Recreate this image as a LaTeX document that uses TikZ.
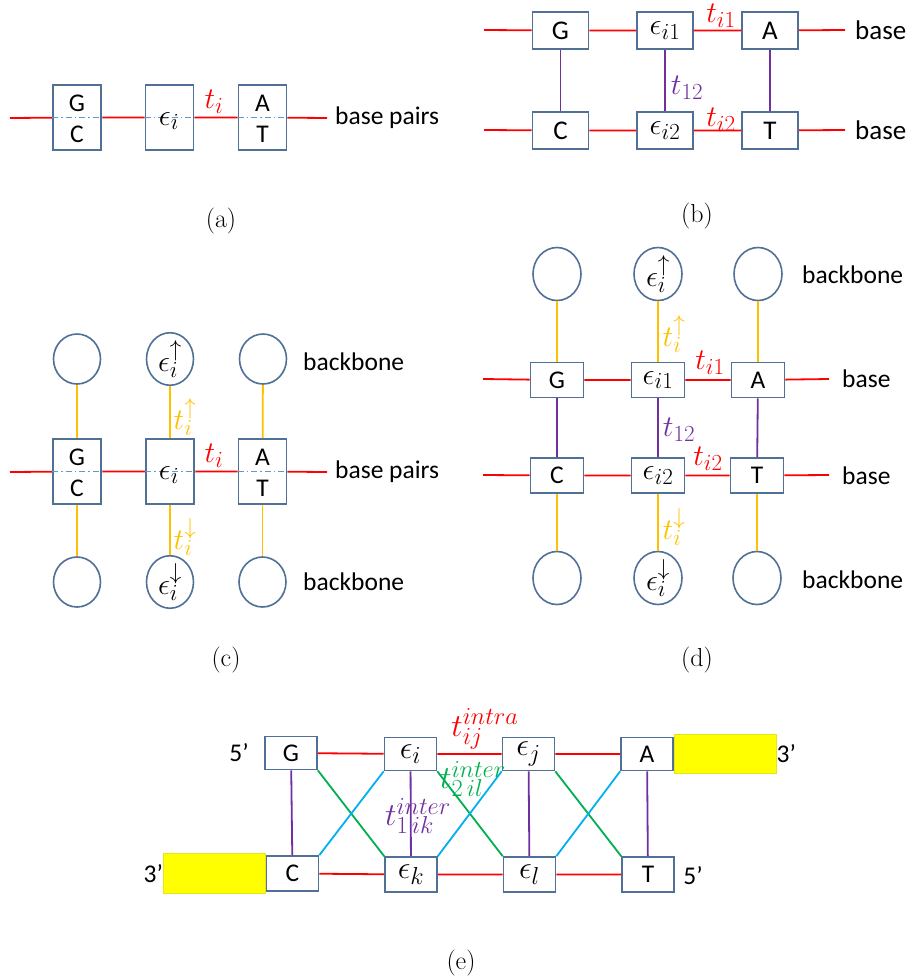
\RequirePackage{fix-cm}
\documentclass[tikz,border=0pt]{standalone}
\usepackage{fontspec}
\setsansfont{Carlito}
\usetikzlibrary{shapes.geometric}
\DeclareMathSizes{30}{30}{23}{18}
\DeclareMathSizes{32}{32}{24.5}{19}
\definecolor{boxc}{RGB}{80,112,150}
\definecolor{redc}{RGB}{255,0,0}
\definecolor{orc}{RGB}{255,192,0}
\definecolor{purc}{RGB}{112,48,160}
\definecolor{grc}{RGB}{0,176,80}
\definecolor{cyc}{RGB}{0,176,240}
\definecolor{ddc}{RGB}{91,155,213}
\definecolor{yelc}{RGB}{255,255,0}
\tikzset{
  lbl/.style={font=\sffamily\fontsize{25.5}{30}\selectfont, inner sep=0pt},
  lblb/.style={font=\sffamily\fontsize{27}{30}\selectfont, inner sep=0pt},
  mth/.style={font=\fontsize{30}{34}\selectfont, inner sep=0pt},
  mthe/.style={font=\fontsize{32}{36}\selectfont, inner sep=0pt},
  captxt/.style={font=\rmfamily\fontsize{26}{30}\selectfont, inner sep=0pt},
  bx/.style={draw=boxc, line width=1.6pt, fill=white, inner sep=0pt, lbl},
  bxa/.style={bx, minimum width=48pt, minimum height=65pt},
  bxb/.style={bx, lblb, minimum width=56pt, minimum height=37pt},
  bxd/.style={bx, minimum width=53pt, minimum height=35pt},
  bxe/.style={bx, minimum width=52pt, minimum height=33pt},
  circc/.style={ellipse, draw=boxc, line width=1.6pt, fill=white, inner sep=0pt, minimum width=47pt, minimum height=50pt, font=\fontsize{30}{34}\selectfont},
  circd/.style={circc, minimum width=48pt, minimum height=53pt},
  rl/.style={draw=redc, line width=1.8pt},
  ol/.style={draw=orc, line width=1.8pt},
  pl/.style={draw=purc, line width=1.8pt},
  gl/.style={draw=grc, line width=1.8pt},
  cl/.style={draw=cyc, line width=1.8pt},
  dd/.style={draw=ddc, line width=1.8pt, dash pattern=on 6pt off 3pt on 1.5pt off 3pt},
  yel/.style={fill=yelc, draw=yelc!80!gray, line width=0.6pt, inner sep=0pt},
}
\begin{document}
\begin{tikzpicture}[x=1pt,y=-1pt]
\useasboundingbox (0,0) rectangle (912,980);
\fill[white] (0,0) rectangle (912,980);

% ================= (a) =================
\node[bxa] (aGC) at (77,117.5) {};
\node[bxa] (aE) at (169.5,117.5) {};
\node[bxa] (aAT) at (262.5,117.5) {};
\coordinate (aL) at (10,118);
\coordinate (aR) at (327,118);
\draw[rl] (aL) -- (aGC) -- (aE) -- (aAT) -- (aR);
\draw[dd] (aGC.west) -- (aGC.east);
\draw[dd] (aE.west) -- (aE.east);
\draw[dd] (aAT.west) -- (aAT.east);
\node[lbl] (aG) at (77,103) {G};
\node[lbl] (aC) at (77,134) {C};
\node[mth] (aEt) at (169,121) {$\epsilon_i$};
\node[lbl] (aA) at (262.5,103) {A};
\node[lbl] (aT) at (262.5,134) {T};
\node[mth, text=redc] (ati) at (214,102) {$t_i$};
\node[lbl, anchor=west] (abp) at (335,118) {base pairs};
\node[captxt] (capa) at (221,221) {(a)};

% ================= (b) =================
\node[bxb] (bG) at (560.5,30.5) {G};
\node[bxb, mth] (bE1) at (665,30.5) {$\epsilon_{i1}$};
\node[bxb] (bA) at (770,30.5) {A};
\node[bxb] (bC) at (560.5,130.5) {C};
\node[bxb, mth] (bE2) at (665,130.5) {$\epsilon_{i2}$};
\node[bxb] (bT) at (770,130.5) {T};
\coordinate (bL1) at (484,30);
\coordinate (bR1) at (845,30);
\coordinate (bL2) at (484,130);
\coordinate (bR2) at (845,130);
\draw[rl] (bL1) -- (bG) -- (bE1) -- (bA) -- (bR1);
\draw[rl] (bL2) -- (bC) -- (bE2) -- (bT) -- (bR2);
\draw[pl] (bG) -- (bC);
\draw[pl] (bE1) -- (bE2);
\draw[pl] (bA) -- (bT);
\node[mth, text=redc] (bti1) at (721,16) {$t_{i1}$};
\node[mth, text=purc] (bt12) at (687,88) {$t_{12}$};
\node[mth, text=redc] (bti2) at (721,120) {$t_{i2}$};
\node[lblb, anchor=west] (bb1) at (855,30) {base};
\node[lblb, anchor=west] (bb2) at (855,130) {base};
\node[captxt] (capb) at (697,216) {(b)};

% ================= (c) =================
\node[circc] (cU1) at (77,359) {};
\node[circc] (cU2) at (170,359) {$\epsilon_i^{\uparrow}$};
\node[circc] (cU3) at (263,359) {};
\node[bxa] (cGC) at (77,471.5) {};
\node[bxa] (cE) at (170,471.5) {};
\node[bxa] (cAT) at (262.5,471.5) {};
\node[circc] (cD1) at (77,582) {};
\node[circc] (cD2) at (170,582) {$\epsilon_i^{\downarrow}$};
\node[circc] (cD3) at (262.5,582) {};
\coordinate (cL) at (10,472);
\coordinate (cR) at (327,472);
\draw[rl] (cL) -- (cGC) -- (cE) -- (cAT) -- (cR);
\draw[dd] (cGC.west) -- (cGC.east);
\draw[dd] (cE.west) -- (cE.east);
\draw[dd] (cAT.west) -- (cAT.east);
\draw[ol] (cU1) -- (cGC);
\draw[ol] (cU2) -- (cE);
\draw[ol] (cU3) -- (cAT);
\draw[ol] (cGC) -- (cD1);
\draw[ol] (cE) -- (cD2);
\draw[ol] (cAT) -- (cD3);
\node[lbl] (cG) at (77,457) {G};
\node[lbl] (cC) at (77,488) {C};
\node[mth] (cEt) at (169,475) {$\epsilon_i$};
\node[lbl] (cA) at (262.5,457) {A};
\node[lbl] (cT) at (262.5,488) {T};
\node[mth, text=redc] (cti) at (214,456) {$t_i$};
\node[mth, text=orc] (ctu) at (185,417) {$t_i^{\uparrow}$};
\node[mth, text=orc] (ctd) at (185,537) {$t_i^{\downarrow}$};
\node[lbl, anchor=west] (cbp) at (335,472) {base pairs};
\node[lbl, anchor=west] (cbb1) at (303,362) {backbone};
\node[lbl, anchor=west] (cbb2) at (303,582) {backbone};
\node[captxt] (capc) at (226,660) {(c)};

% ================= (d) =================
\node[circd] (dU1) at (557,274) {};
\node[circd] (dU2) at (658,274) {$\epsilon_i^{\uparrow}$};
\node[circd] (dU3) at (758,274) {};
\node[bxd] (dG) at (557,380) {G};
\node[bxd, mth] (dE1) at (658,380) {$\epsilon_{i1}$};
\node[bxd] (dA) at (758,380) {A};
\node[bxd] (dC) at (557,475.5) {C};
\node[bxd, mth] (dE2) at (658,475.5) {$\epsilon_{i2}$};
\node[bxd] (dT) at (757,475.5) {T};
\node[circd] (dD1) at (557,578) {};
\node[circd] (dD2) at (658,578) {$\epsilon_i^{\downarrow}$};
\node[circd] (dD3) at (757,578) {};
\coordinate (dL1) at (483,379);
\coordinate (dR1) at (829,379);
\coordinate (dL2) at (483,475);
\coordinate (dR2) at (829,475);
\draw[rl] (dL1) -- (dG) -- (dE1) -- (dA) -- (dR1);
\draw[rl] (dL2) -- (dC) -- (dE2) -- (dT) -- (dR2);
\draw[pl] (dG) -- (dC);
\draw[pl] (dE1) -- (dE2);
\draw[pl] (dA) -- (dT);
\draw[ol] (dU1) -- (dG);
\draw[ol] (dU2) -- (dE1);
\draw[ol] (dU3) -- (dA);
\draw[ol] (dC) -- (dD1);
\draw[ol] (dE2) -- (dD2);
\draw[ol] (dT) -- (dD3);
\node[mth, text=orc] (dtu) at (674,334) {$t_i^{\uparrow}$};
\node[mth, text=redc] (dti1) at (710,363) {$t_{i1}$};
\node[mth, text=purc] (dt12) at (679,430) {$t_{12}$};
\node[mth, text=redc] (dti2) at (708,459) {$t_{i2}$};
\node[mth, text=orc] (dtd) at (674,527) {$t_i^{\downarrow}$};
\node[lbl, anchor=west] (db1) at (842,379) {base};
\node[lbl, anchor=west] (db2) at (842,476) {base};
\node[lbl, anchor=west] (dbb1) at (802,275) {backbone};
\node[lbl, anchor=west] (dbb2) at (802,580) {backbone};
\node[captxt] (capd) at (697,660) {(d)};

% ================= (e) =================
\node[bxe] (eG) at (291,753) {G};
\node[bxe, mthe] (eEi) at (410.5,754) {$\epsilon_i$};
\node[bxe, mthe] (eEj) at (528.5,754) {$\epsilon_j$};
\node[bxe] (eA) at (647,754) {A};
\node[bxe, minimum height=35pt] (eC) at (292.5,873.5) {C};
\node[bxe, mthe, minimum height=35pt] (eEk) at (411,874.5) {$\epsilon_k$};
\node[bxe, mthe, minimum height=35pt] (eEl) at (529.5,874.5) {$\epsilon_l$};
\node[bxe, minimum height=35pt] (eT) at (648,874.5) {T};
\node[yel, minimum width=102pt, minimum height=39pt, anchor=west] (eyR) at (eA.east) {};
\node[yel, minimum width=102pt, minimum height=40pt, anchor=east] (eyL) at (eC.west) {};
\draw[rl] (eG) -- (eEi) -- (eEj) -- (eA);
\draw[rl] (eC) -- (eEk) -- (eEl) -- (eT);
\draw[pl] (eG) -- (eC);
\draw[pl] (eEi) -- (eEk);
\draw[pl] (eEj) -- (eEl);
\draw[pl] (eA) -- (eT);
\draw[gl] (eG.south east) -- (eEk.north west);
\draw[gl] (eEi.south east) -- (eEl.north west);
\draw[gl] (eEj.south east) -- (eT.north west);
\draw[cl] (eC.north east) -- (eEi.south west);
\draw[cl] (eEk.north east) -- (eEj.south west);
\draw[cl] (eEl.north east) -- (eA.south west);
\node[mthe, text=redc] (etij) at (485,729) {$t_{ij}^{intra}$};
\node[mthe, text=grc] (etil) at (473,779) {$t_{2\,il}^{inter}$};
\node[mthe, text=purc] (etik) at (418,816) {$t_{1\,ik}^{inter}$};
\node[lbl] (e5a) at (239,753) {5’};
\node[lbl, anchor=west] (e3a) at (eyR.east) {3’};
\node[lbl, anchor=east] (e3b) at (eyL.west) {3’};
\node[lbl] (e5b) at (693,876) {5’};
\node[captxt] (cape) at (461,963) {(e)};
\end{tikzpicture}
\end{document}
